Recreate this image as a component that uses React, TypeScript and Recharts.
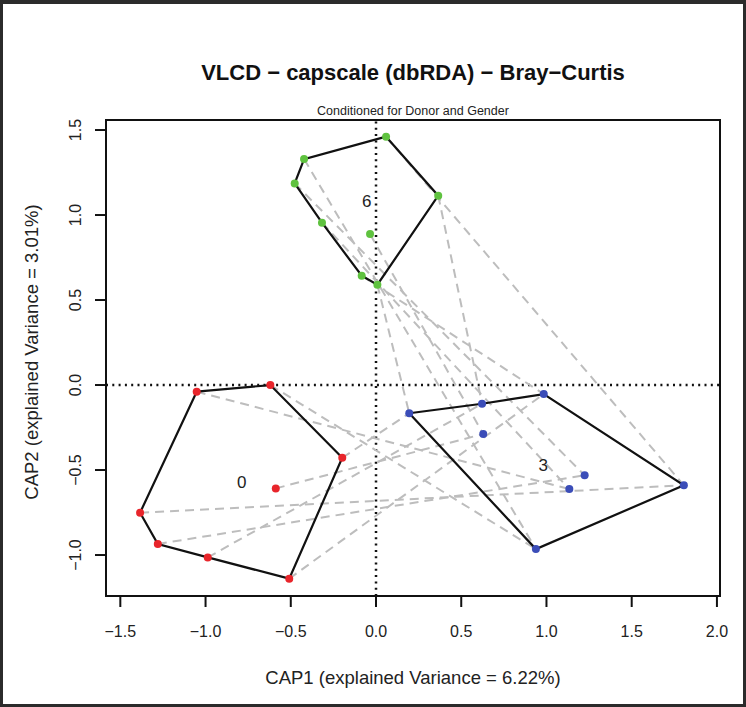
import React from "react";
import { ScatterChart, Scatter, XAxis, YAxis, ReferenceLine, ReferenceArea } from "recharts";

// sample scores per time point (CAP1 / CAP2)
const redX = [-1.052, -0.62, -0.198, -0.588, -1.384, -1.28, -0.987, -0.509];
const redY = [-0.039, 0.0, -0.428, -0.608, -0.751, -0.935, -1.014, -1.139];
const greenX = [0.059, -0.422, -0.477, 0.365, -0.317, -0.035, -0.084, 0.008];
const greenY = [1.461, 1.329, 1.186, 1.114, 0.955, 0.888, 0.643, 0.59];
const blueX = [0.195, 0.622, 0.984, 0.629, 1.224, 1.134, 1.806, 0.938];
const blueY = [-0.166, -0.11, -0.053, -0.288, -0.531, -0.612, -0.59, -0.965];

// hull vertex order (indices into the arrays above)
const redHull = [0, 1, 2, 7, 6, 5, 4, 0];
const greenHull = [0, 3, 7, 6, 4, 2, 1, 0];
const blueHull = [0, 1, 2, 6, 7, 0];

// which blue sample each red / green sample is joined to
const redToBlue = [5, 7, 0, 3, 6, 4, 1, 2];
const greenToBlue = [6, 7, 4, 1, 5, 3, 2, 0];

const groupNames = ["0", "3", "6"];
const groupLabelX = [-0.788, 0.981, -0.055];
const groupLabelY = [-0.575, -0.471, 1.078];

const xTicks = [-1.5, -1.0, -0.5, 0.0, 0.5, 1.0, 1.5, 2.0];
const yTicks = [-1.0, -0.5, 0.0, 0.5, 1.0, 1.5];

const RED = "#e8252b";
const GREEN = "#5fc23f";
const BLUE = "#3b4db8";
const FONT = "'Liberation Sans', Arial, Helvetica, sans-serif";

const pts = (xs: number[], ys: number[]) => xs.map((x, i) => ({ x, y: ys[i] }));
const red = pts(redX, redY);
const green = pts(greenX, greenY);
const blue = pts(blueX, blueY);

const fmt = (v: number) => (v < 0 ? "\u2212" : "") + Math.abs(v).toFixed(1);

const Empty = () => <g />;

const dot = (color: string) => (props: any) => (
  <circle cx={props.cx} cy={props.cy} r={4} fill={color} />
);

const GroupLabel = (props: any) => (
  <text
    x={props.cx}
    y={props.cy}
    textAnchor="middle"
    dominantBaseline="central"
    fontSize={17}
    fontFamily={FONT}
    fill="#222"
  >
    {props.payload.name}
  </text>
);

const YTick = (props: any) => {
  const x = props.x - 14;
  const y = props.y;
  return (
    <text
      x={x}
      y={y}
      transform={`rotate(-90, ${x}, ${y})`}
      textAnchor="middle"
      fontSize={16}
      fontFamily={FONT}
      fill="#222"
    >
      {fmt(props.payload.value)}
    </text>
  );
};

const dashed = { stroke: "#bdbdbd", strokeWidth: 2, strokeDasharray: "9 6" };
const hullLine = { stroke: "#111", strokeWidth: 2.2 };

const App = () => {
  const segments = [
    ...red.map((p, i) => [p, blue[redToBlue[i]]]),
    ...green.map((p, i) => [p, blue[greenToBlue[i]]]),
  ];
  const labels = groupNames.map((name, i) => ({ x: groupLabelX[i], y: groupLabelY[i], name }));

  return (
    <div
      style={{
        position: "absolute",
        left: 0,
        top: 0,
        width: 746,
        height: 707,
        background: "#fff",
        fontFamily: FONT,
      }}
    >
      <ScatterChart width={746} height={707} margin={{ top: 120, right: 26, bottom: 51, left: 46 }}>
        <XAxis
          type="number"
          dataKey="x"
          domain={[-1.584, 2.018]}
          allowDataOverflow
          ticks={xTicks}
          tickFormatter={fmt}
          axisLine={false}
          tickSize={11}
          tickMargin={19}
          tickLine={{ stroke: "#111", strokeWidth: 2 }}
          tick={{ fontSize: 16, fill: "#222", fontFamily: FONT }}
          height={60}
          interval={0}
        />
        <YAxis
          type="number"
          dataKey="y"
          domain={[-1.241, 1.559]}
          allowDataOverflow
          ticks={yTicks}
          axisLine={false}
          tickSize={11}
          tickMargin={0}
          tickLine={{ stroke: "#111", strokeWidth: 2 }}
          tick={<YTick />}
          width={60}
          interval={0}
        />
        <ReferenceLine x={0} stroke="#111" strokeWidth={2.5} strokeDasharray="2 4.3" />
        <ReferenceLine y={0} stroke="#111" strokeWidth={2.5} strokeDasharray="2 4.3" />
        {segments.map((seg, i) => (
          <Scatter
            key={`seg-${i}`}
            data={seg}
            line={dashed}
            shape={<Empty />}
            isAnimationActive={false}
          />
        ))}
        <Scatter data={redHull.map((i) => red[i])} line={hullLine} shape={<Empty />} isAnimationActive={false} />
        <Scatter data={greenHull.map((i) => green[i])} line={hullLine} shape={<Empty />} isAnimationActive={false} />
        <Scatter data={blueHull.map((i) => blue[i])} line={hullLine} shape={<Empty />} isAnimationActive={false} />
        <Scatter data={red} shape={dot(RED)} isAnimationActive={false} />
        <Scatter data={green} shape={dot(GREEN)} isAnimationActive={false} />
        <Scatter data={blue} shape={dot(BLUE)} isAnimationActive={false} />
        <Scatter data={labels} shape={<GroupLabel />} isAnimationActive={false} />
        <ReferenceArea
          x1={-1.584}
          x2={2.018}
          y1={-1.241}
          y2={1.559}
          fill="none"
          fillOpacity={0}
          stroke="#111"
          strokeWidth={2}
        />
      </ScatterChart>

      <div
        style={{
          position: "absolute",
          left: 106,
          width: 614,
          top: 61,
          lineHeight: "24px",
          fontSize: 22,
          fontWeight: "bold",
          textAlign: "center",
          color: "#111",
        }}
      >
        VLCD {"\u2212"} capscale (dbRDA) {"\u2212"} Bray{"\u2212"}Curtis
      </div>
      <div
        style={{
          position: "absolute",
          left: 106,
          width: 614,
          top: 104,
          lineHeight: "14px",
          fontSize: 12.5,
          textAlign: "center",
          color: "#222",
        }}
      >
        Conditioned for Donor and Gender
      </div>
      <div
        style={{
          position: "absolute",
          left: 106,
          width: 614,
          top: 667,
          lineHeight: "21px",
          fontSize: 18.5,
          textAlign: "center",
          color: "#222",
        }}
      >
        CAP1 (explained Variance = 6.22%)
      </div>
      <div
        style={{
          position: "absolute",
          left: 31,
          top: 352,
          transform: "translate(-50%, -50%) rotate(-90deg)",
          whiteSpace: "nowrap",
          lineHeight: "21px",
          fontSize: 18.5,
          color: "#222",
        }}
      >
        CAP2 (explained Variance = 3.01%)
      </div>
      <div
        style={{
          position: "absolute",
          left: 0,
          top: 0,
          width: 746,
          height: 707,
          boxSizing: "border-box",
          borderStyle: "solid",
          borderColor: "#2b2b2b",
          borderWidth: "4px 3px 3px 3px",
          pointerEvents: "none",
        }}
      />
    </div>
  );
};

export default App;
